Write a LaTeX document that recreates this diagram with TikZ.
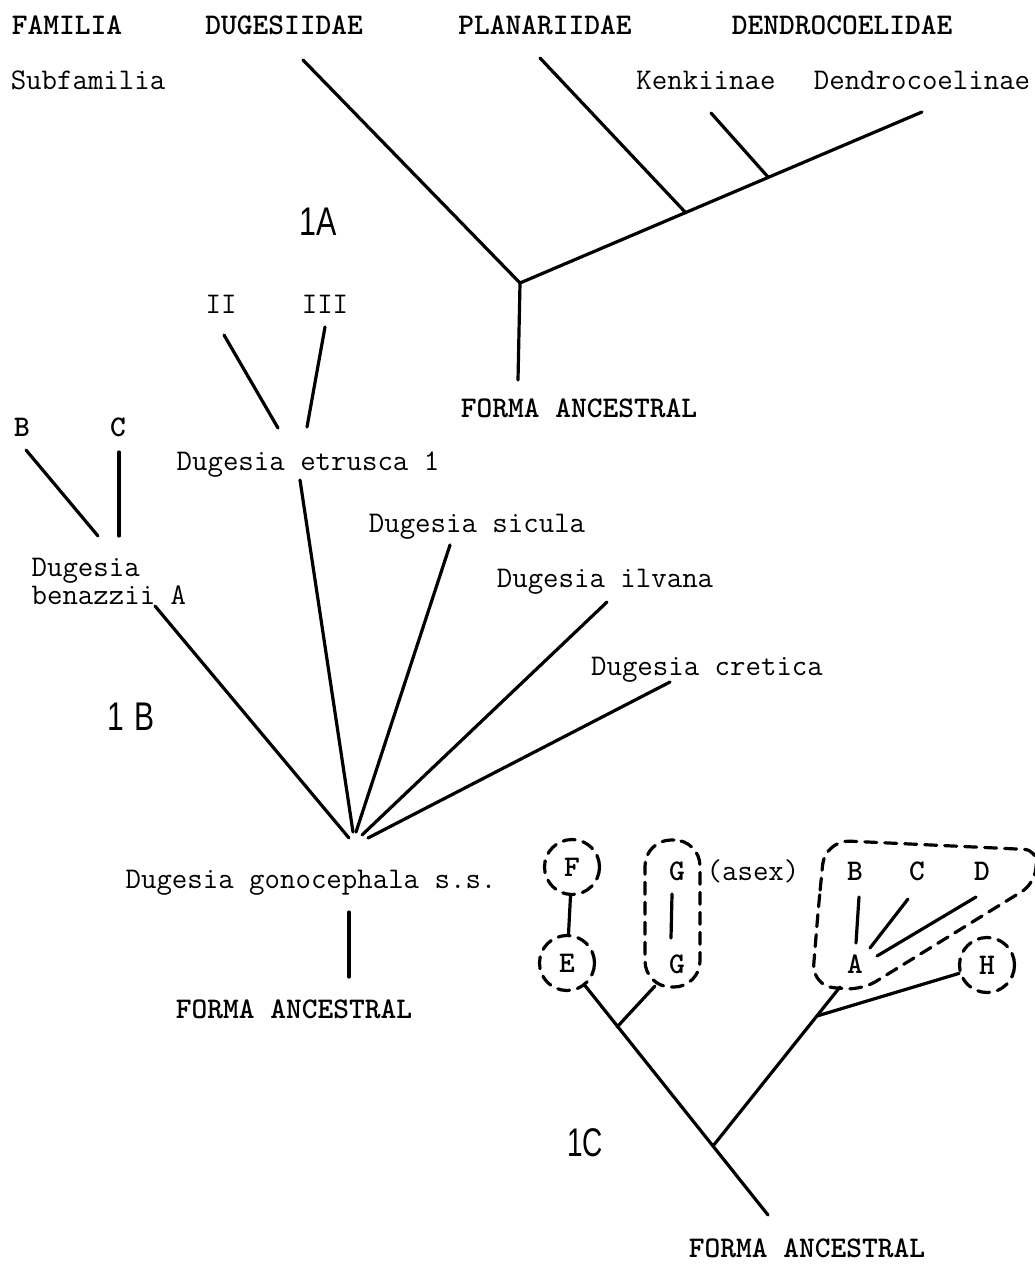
\documentclass[tikz,border=0pt]{standalone}
\usepackage{fontspec}
\newfontfamily\labsans{Liberation Sans}
\begin{document}
\begin{tikzpicture}[x=1pt,y=-1pt, line width=3.2pt, line cap=round, line join=round,
  txt/.style={inner sep=0pt, anchor=base, font=\ttfamily\fontsize{30}{28}\selectfont},
  txtb/.style={inner sep=0pt, anchor=base, font=\ttfamily\bfseries\fontsize{30}{28}\selectfont},
  lab/.style={inner sep=0pt, anchor=center, font=\labsans\fontsize{40}{40}\selectfont},
  dsh/.style={dash pattern=on 12pt off 8pt},
  dcirc/.style={circle, draw, dsh, minimum size=55pt, inner sep=0pt, font=\ttfamily\bfseries\fontsize{30}{28}\selectfont}]
\useasboundingbox (0,0) rectangle (1034,1265);

% ---------- 1A ----------
\node[txtb] (fam) at (67,35) {FAMILIA};
\node[txtb] (dug) at (284,35) {DUGESIIDAE};
\node[txtb] (pla) at (545,35) {PLANARIIDAE};
\node[txtb] (den) at (842,35) {DENDROCOELIDAE};
\node[txt] (subf) at (88,90) {Subfamilia};
\node[txt] (kenk) at (706,90) {Kenkiinae};
\node[txt] (dendr) at (922,90) {Dendrocoelinae};
\node[lab] (l1A) at (318,222) {\scalebox{0.76}[1]{1A}};
\node[txtb] (fa1) at (579,417) {FORMA ANCESTRAL};

\coordinate (a-dug) at (303,60);
\coordinate (a-j0) at (520,283);
\coordinate (a-den) at (922,112);
\coordinate (a-pla) at (540,58);
\coordinate (a-j1) at (686,213);
\coordinate (a-ken) at (711,113);
\coordinate (a-j2) at (768,177);
\coordinate (a-root) at (518,380);
\draw (a-dug) -- (a-j0) -- (a-den);
\draw (a-pla) -- (a-j1);
\draw (a-ken) -- (a-j2);
\draw (a-root) -- (a-j0);

% ---------- 1B ----------
\node[txtb] (bB) at (22,436) {B};
\node[txtb] (bC) at (118,436) {C};
\node[txt, align=left, anchor=north west] (ben) at (30,557) {Dugesia\\benazzii A};
\node[txt] (II) at (221,313) {II};
\node[txt] (III) at (325,313) {III};
\node[txt] (etr) at (308,470) {Dugesia etrusca 1};
\node[txt] (sic) at (477,532) {Dugesia sicula};
\node[txt] (ilv) at (605,587) {Dugesia ilvana};
\node[txt] (cre) at (707,675) {Dugesia cretica};
\node[txt] (gon) at (311,888) {Dugesia gonocephala s.s.};
\node[txtb] (fa2) at (294,1018) {FORMA ANCESTRAL};
\node[lab] (l1B) at (131,717) {\scalebox{0.75}[1]{1\hspace{14pt}B}};

\coordinate (b-B1) at (26,450);   \coordinate (b-B2) at (98,536);
\coordinate (b-C1) at (119,452);  \coordinate (b-C2) at (119,536);
\coordinate (b-II1) at (224,335); \coordinate (b-II2) at (278,428);
\coordinate (b-III1) at (325,327);\coordinate (b-III2) at (307,427);
\coordinate (b-ben) at (155,606); \coordinate (b-c1) at (349,838);
\coordinate (b-etr) at (300,480); \coordinate (b-c2) at (353,832);
\coordinate (b-sic) at (450,545); \coordinate (b-c3) at (356,832);
\coordinate (b-ilv) at (607,602); \coordinate (b-c4) at (362,835);
\coordinate (b-cre) at (670,682); \coordinate (b-c5) at (368,838);
\coordinate (b-gon) at (349,912); \coordinate (b-fa) at (349,977);
\draw (b-B1) -- (b-B2);
\draw (b-C1) -- (b-C2);
\draw (b-II1) -- (b-II2);
\draw (b-III1) -- (b-III2);
\draw (b-ben) -- (b-c1);
\draw (b-etr) -- (b-c2);
\draw (b-sic) -- (b-c3);
\draw (b-ilv) -- (b-c4);
\draw (b-cre) -- (b-c5);
\draw (b-gon) -- (b-fa);

% ---------- 1C ----------
\node[dcirc] (F) at (572,867) {F};
\node[dcirc] (E) at (567,963) {E};
\node[dcirc] (H) at (987,965) {H};
\node[draw, dsh, rounded corners=26pt, minimum width=55pt, minimum height=147pt, inner sep=0pt] (Gbox) at (672.5,913.5) {};
\node[txtb] (G1) at (677,880) {G};
\node[txt] (asex) at (753,880) {(asex)};
\node[txtb] (G2) at (677,973) {G};
\node[txtb] (cA) at (855,973) {A};
\node[txtb] (cB) at (855,880) {B};
\node[txtb] (cC) at (917,880) {C};
\node[txtb] (cD) at (982,880) {D};
\node[lab] (l1C) at (585,1143) {\scalebox{0.7}[1]{1C}};
\node[txtb] (fa3) at (807,1257) {FORMA ANCESTRAL};

\draw[dsh] (818,912) [rounded corners=25pt] -- (825,840) [rounded corners=14pt] -- (1038,850) -- (1034,884) [rounded corners=16pt] -- (862,990) [rounded corners=22pt] -- (812,986) -- cycle;

\coordinate (c-root) at (768,1215);
\coordinate (c-j1) at (617,1027);
\coordinate (c-G) at (655,986);
\coordinate (c-j2) at (713,1146);
\coordinate (c-A) at (840,987);
\coordinate (c-j3) at (817,1016);
\coordinate (c-GG1) at (672,894); \coordinate (c-GG2) at (671,938);
\coordinate (c-BA1) at (859,897); \coordinate (c-BA2) at (856,943);
\coordinate (c-CA1) at (908,899); \coordinate (c-CA2) at (870,948);
\coordinate (c-DA1) at (976,897); \coordinate (c-DA2) at (877,956);
\draw (F) -- (E);
\draw (E) -- (c-root);
\draw (c-G) -- (c-j1);
\draw (c-j2) -- (c-A);
\draw (c-j3) -- (H);
\draw (c-GG1) -- (c-GG2);
\draw (c-BA1) -- (c-BA2);
\draw (c-CA1) -- (c-CA2);
\draw (c-DA1) -- (c-DA2);
\end{tikzpicture}
\end{document}
